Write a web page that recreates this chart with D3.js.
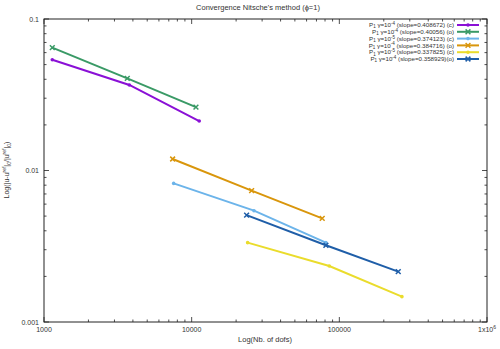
<!DOCTYPE html>
<html><head><meta charset="utf-8">
<script src="https://cdn.jsdelivr.net/npm/d3@7"></script>
<style>body{margin:0;background:#fff}svg{display:block}text{font-family:"Liberation Sans",Arial,sans-serif;fill:#333}</style>
</head><body>
<svg id="c" width="500" height="349"></svg>
<script>
const seriesNames = ["P1_1e-4_c","P1_1e-4_o","P1_1e-5_c","P1_1e-5_o","P1_1e-6_c","P1_1e-6_o"];
const slopes = ["0.408672","0.40056","0.374123","0.384716","0.337825","0.358929"];
const exps = ["-4","-4","-5","-4","-5","-4"];
const kinds = ["(c)","(o)","(c)","(o)","(c)","(o)"];
const colors = ["#8a10d6","#3a9a66","#6cb4ea","#d9960c","#eadc2c","#1f5ea8"];
const markers = ["dot","x","dot","x","dot","x"];
const dofs = [
  [1138, 3784, 11250],
  [1138, 3664, 10690],
  [7551, 26430, 81100],
  [7431, 25470, 76560],
  [23930, 85500, 265400],
  [23550, 81100, 250600]
];
const errors = [
  [0.0538, 0.0367, 0.0212],
  [0.0647, 0.0406, 0.0262],
  [0.00822, 0.00543, 0.00334],
  [0.01191, 0.00736, 0.00483],
  [0.00334, 0.00234, 0.00147],
  [0.00508, 0.00321, 0.00215]
];
const xTicks = [1000, 10000, 100000, 1000000];
const xTickLabels = ["1000","10000","100000","1x10"];
const yTicks = [0.001, 0.01, 0.1];
const yTickLabels = ["0.001","0.01","0.1"];

const svg = d3.select("#c");
const L = 44, R = 487, T = 19, B = 322;
const x = d3.scaleLog().domain([1000, 1e6]).range([L, R]);
const y = d3.scaleLog().domain([0.001, 0.1]).range([B, T]);

const g = svg.append("g");
const minorX = [];
for (let d = 1000; d < 1e6; d *= 10) for (let k = 2; k <= 9; k++) minorX.push(d * k);
const minorY = [];
for (let d = 0.001; d < 0.1; d *= 10) for (let k = 2; k <= 9; k++) minorY.push(d * k);
const tc = "#222";
minorX.forEach(v => {
  g.append("line").attr("x1", x(v)).attr("x2", x(v)).attr("y1", B).attr("y2", B - 2.5).attr("stroke", tc).attr("stroke-width", 0.8);
  g.append("line").attr("x1", x(v)).attr("x2", x(v)).attr("y1", T).attr("y2", T + 2.5).attr("stroke", tc).attr("stroke-width", 0.8);
});
xTicks.forEach(v => {
  g.append("line").attr("x1", x(v)).attr("x2", x(v)).attr("y1", B).attr("y2", B - 5).attr("stroke", tc).attr("stroke-width", 0.8);
  g.append("line").attr("x1", x(v)).attr("x2", x(v)).attr("y1", T).attr("y2", T + 5).attr("stroke", tc).attr("stroke-width", 0.8);
});
minorY.forEach(v => {
  g.append("line").attr("x1", L).attr("x2", L + 2.5).attr("y1", y(v)).attr("y2", y(v)).attr("stroke", tc).attr("stroke-width", 0.8);
  g.append("line").attr("x1", R).attr("x2", R - 2.5).attr("y1", y(v)).attr("y2", y(v)).attr("stroke", tc).attr("stroke-width", 0.8);
});
yTicks.forEach(v => {
  g.append("line").attr("x1", L).attr("x2", L + 5).attr("y1", y(v)).attr("y2", y(v)).attr("stroke", tc).attr("stroke-width", 0.8);
  g.append("line").attr("x1", R).attr("x2", R - 5).attr("y1", y(v)).attr("y2", y(v)).attr("stroke", tc).attr("stroke-width", 0.8);
});
svg.append("rect").attr("x", L).attr("y", T).attr("width", R - L).attr("height", B - T)
  .attr("fill", "none").attr("stroke", "#222").attr("stroke-width", 1);

xTicks.forEach((v, i) => {
  const t = svg.append("text").attr("x", x(v)).attr("y", B + 10).attr("text-anchor", "middle").attr("font-size", 7).text(xTickLabels[i]);
  if (i === 3) t.append("tspan").attr("font-size", 5).attr("dy", -3).text("6");
});
yTicks.forEach((v, i) => {
  svg.append("text").attr("x", L - 5).attr("y", y(v) + 2.5).attr("text-anchor", "end").attr("font-size", 7).text(yTickLabels[i]);
});

svg.append("text").attr("x", 258).attr("y", 10).attr("text-anchor", "middle").attr("font-size", 7.5).text("Convergence Nitsche's method (\u03d5=1)");
svg.append("text").attr("x", 265).attr("y", 342).attr("text-anchor", "middle").attr("font-size", 7.5).text("Log(Nb. of dofs)");
const yl = svg.append("text").attr("transform", "translate(9,170) rotate(-90)").attr("text-anchor", "middle").attr("font-size", 7);
yl.append("tspan").text("Log(|u-u");
yl.append("tspan").attr("font-size", 5).attr("dy", -3).text("ref");
yl.append("tspan").attr("dy", 3).text("|");
yl.append("tspan").attr("font-size", 5).attr("dy", 1.5).text("0");
yl.append("tspan").attr("dy", -1.5).text("/|u");
yl.append("tspan").attr("font-size", 5).attr("dy", -3).text("ref");
yl.append("tspan").attr("dy", 3).text("|");
yl.append("tspan").attr("font-size", 5).attr("dy", 1.5).text("0");
yl.append("tspan").attr("dy", -1.5).text(")");

function marker(sel, px, py, type, col) {
  if (type === "dot") {
    sel.append("circle").attr("cx", px).attr("cy", py).attr("r", 1.8).attr("fill", col);
  } else {
    const s = 2.4;
    sel.append("path").attr("d", `M${px - s},${py - s}L${px + s},${py + s}M${px - s},${py + s}L${px + s},${py - s}`)
      .attr("stroke", col).attr("stroke-width", 1.5).attr("fill", "none");
  }
}

const line = d3.line().x(d => x(d[0])).y(d => y(d[1]));
seriesNames.forEach((name, i) => {
  const pts = dofs[i].map((d, j) => [d, errors[i][j]]);
  const sg = svg.append("g");
  sg.append("path").attr("d", line(pts)).attr("fill", "none").attr("stroke", colors[i]).attr("stroke-width", 2);
  pts.forEach(p => marker(sg, x(p[0]), y(p[1]), markers[i], colors[i]));
});

const rowY = [25, 31.8, 38.6, 45.4, 52.2, 59];
seriesNames.forEach((name, i) => {
  const yy = rowY[i];
  const t = svg.append("text").attr("x", 454).attr("y", yy + 2.1).attr("text-anchor", "end").attr("font-size", 6.2);
  t.append("tspan").text("P");
  t.append("tspan").attr("font-size", 4.5).attr("dy", 1.2).text("1");
  t.append("tspan").attr("dy", -1.2).text(" \u03b3=10");
  t.append("tspan").attr("font-size", 4.5).attr("dy", -2.2).text(exps[i]);
  t.append("tspan").attr("dy", 2.2).text((i === 5 ? " (slope=" + slopes[i] + ")" : " (slope=" + slopes[i] + ") ") + kinds[i]);
  svg.append("line").attr("x1", 457).attr("x2", 479).attr("y1", yy).attr("y2", yy).attr("stroke", colors[i]).attr("stroke-width", 2);
  marker(svg, 468, yy, markers[i], colors[i]);
});
</script>
</body></html>
